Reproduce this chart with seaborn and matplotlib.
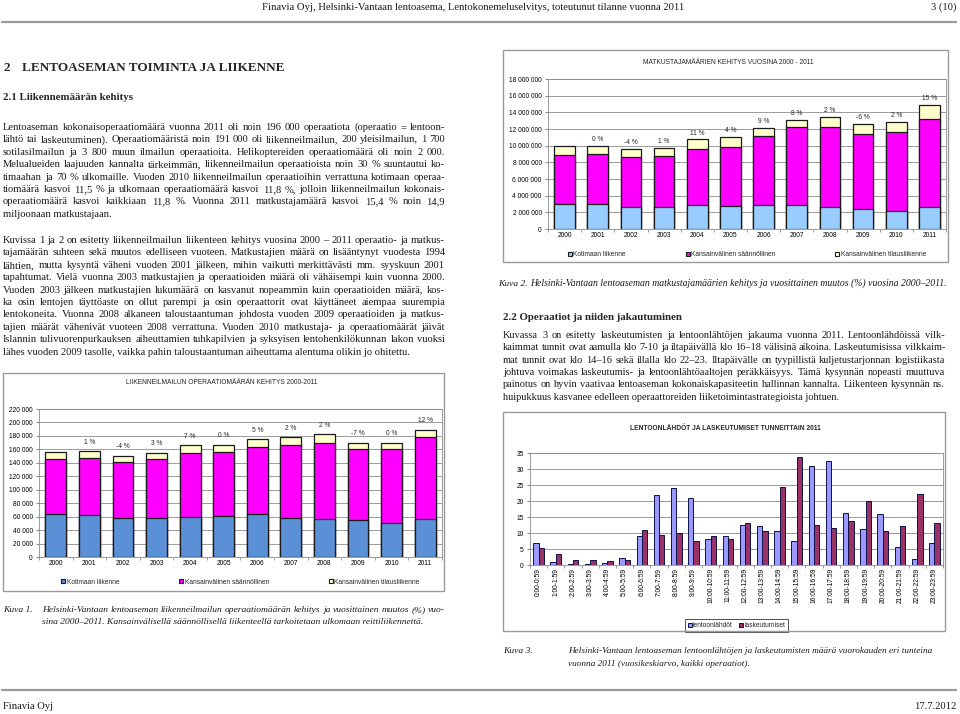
import numpy as np
import pandas as pd
import seaborn as sns
import matplotlib
import matplotlib.pyplot as plt
from matplotlib.patches import Patch, Rectangle
from matplotlib.ticker import FuncFormatter
plt.switch_backend('agg')

vuodet = ['2000', '2001', '2002', '2003', '2004', '2005', '2006', '2007', '2008', '2009', '2010', '2011']

# Kuva 1: liikenneilmailun operaatiot
op_kotimaa = [63500, 63000, 58500, 58500, 59500, 61500, 64000, 58500, 57000, 55000, 51000, 57000]
op_saannollinen = [82000, 84000, 82500, 87000, 95000, 94000, 100000, 108000, 112000, 105000, 109000, 121000]
op_tilaus = [10500, 10000, 9500, 9500, 11500, 11000, 11000, 11500, 13500, 10000, 10000, 11500]
op_muutos = ['', '1 %', '-4 %', '3 %', '7 %', '0 %', '5 %', '2 %', '2 %', '-7 %', '0 %', '12 %']

# Kuva 2: matkustajat
mk_kotimaa = [3.0e6, 3.0e6, 2.7e6, 2.65e6, 2.85e6, 2.8e6, 2.9e6, 2.9e6, 2.7e6, 2.4e6, 2.15e6, 2.7e6]
mk_saannollinen = [5.9e6, 6.0e6, 6.0e6, 6.1e6, 6.8e6, 7.1e6, 8.3e6, 9.3e6, 9.55e6, 9.0e6, 9.5e6, 10.55e6]
mk_tilaus = [1.1e6, 1.0e6, 0.9e6, 1.0e6, 1.1e6, 1.2e6, 0.9e6, 0.9e6, 1.2e6, 1.2e6, 1.25e6, 1.6e6]
mk_muutos = ['', '0 %', '-4 %', '1 %', '11 %', '4 %', '9 %', '8 %', '2 %', '-6 %', '2 %', '15 %']

# Kuva 3: lähdöt ja laskeutumiset tunneittain
tunnit = ['0:00-0:59', '1:00-1:59', '2:00-2:59', '3:00-3:59', '4:00-4:59', '5:00-5:59',
          '6:00-6:59', '7:00-7:59', '8:00-8:59', '9:00-9:59', '10:00-10:59', '11:00-11:59',
          '12:00-12:59', '13:00-13:59', '14:00-14:59', '15:00-15:59', '16:00-16:59', '17:00-17:59',
          '18:00-18:59', '19:00-19:59', '20:00-20:59', '21:00-21:59', '22:00-22:59', '23:00-23:59']
lahdot = [6.9, 0.8, 0.4, 0.3, 0.6, 2.3, 9.0, 21.8, 24.0, 20.8, 8.2, 9.0,
          12.4, 12.2, 10.7, 7.6, 30.8, 32.4, 16.2, 11.3, 16.0, 5.6, 1.8, 6.9]
laskeutumiset = [5.4, 3.3, 1.6, 1.7, 1.4, 1.7, 10.8, 9.3, 10.1, 7.6, 9.0, 8.1,
                 13.2, 10.7, 24.4, 33.6, 12.6, 11.7, 13.9, 19.9, 10.6, 12.2, 22.3, 13.2]

sarjat = ['Kotimaan liikenne', 'Kansainvälinen säännöllinen', 'Kansainvälinen tilausliikenne']

sns.set_style('white')
plt.rcParams['font.family'] = ['Liberation Sans', 'DejaVu Sans']

W, H = 960, 714
fig = plt.figure(figsize=(9.6, 7.14), dpi=100)
renderer = fig.canvas.get_renderer()


def fx(x):
    return x / W


def fy(y):
    return 1 - y / H


def box(x0, y0, x1, y1):
    fig.add_artist(Rectangle((fx(x0), fy(y1)), (x1 - x0) / W, (y1 - y0) / H,
                             transform=fig.transFigure, fill=False, ec='#9a9a9a', lw=1))


def axes_px(x0, y0, x1, y1):
    return fig.add_axes([fx(x0), fy(y1), (x1 - x0) / W, (y1 - y0) / H])


def excel_axes(ax, ymax, step):
    ax.set_ylim(0, ymax)
    ax.set_yticks(np.arange(0, ymax + 1, step))
    ax.yaxis.set_major_formatter(FuncFormatter(lambda v, _: f'{int(v):,}'.replace(',', ' ')))
    ax.set_xlabel('')
    ax.set_ylabel('')
    ax.grid(axis='y', color='#8c8c8c', lw=0.6)
    ax.set_axisbelow(True)
    for s in ax.spines.values():
        s.set_color('#8c8c8c')
        s.set_linewidth(0.6)
    n = len(ax.get_xticks())
    ax.set_xticks(np.arange(-0.5, n, 1), minor=True)
    ax.tick_params(axis='both', which='major', labelsize=4.8, colors='black', pad=2)
    ax.tick_params(axis='x', which='major', length=0)
    ax.tick_params(axis='x', which='minor', length=2.5, color='#8c8c8c', bottom=True)
    ax.tick_params(axis='y', length=2.5, color='#8c8c8c', left=True)


def stacked(ax, kot, saa, til, muutos, colors, ymax, step, nosto, title, title_y):
    df = pd.DataFrame({'vuosi': vuodet, 'kot': kot, 'saa': saa, 'til': til})
    df['ks'] = df['kot'] + df['saa']
    df['total'] = df['ks'] + df['til']
    for col, c in zip(['total', 'ks', 'kot'], colors[::-1]):
        sns.barplot(data=df, x='vuosi', y=col, color=c, saturation=1, width=0.62,
                    edgecolor='#1a1a1a', linewidth=0.9, ax=ax)
    for i, (t, lab) in enumerate(zip(df['total'], muutos)):
        if lab:
            ax.annotate(lab, (i, t), xytext=(0, nosto), textcoords='offset points',
                        ha='center', va='bottom', fontsize=4.8)
    excel_axes(ax, ymax, step)
    handles = [Patch(fc=c, ec='#1a1a1a', lw=0.8) for c in colors]
    ax.legend(handles, sarjat, ncol=3, loc='center', bbox_to_anchor=(0.5, -0.17),
              frameon=False, fontsize=4.8, handlelength=0.6, handleheight=0.6,
              handletextpad=0.2, columnspacing=9)
    fig.text(ax.get_position().x0 + ax.get_position().width / 2 - 0.02, fy(title_y), title,
             ha='center', va='center', fontsize=4.8)


# Kuva 2
box(503, 50, 948, 262)
ax2 = axes_px(548, 79, 946, 229)
stacked(ax2, mk_kotimaa, mk_saannollinen, mk_tilaus, mk_muutos,
        ['#99CCFF', '#FF00FF', '#FFFFCC'], 18_000_000, 2_000_000, 2,
        'MATKUSTAJAMÄÄRIEN KEHITYS VUOSINA 2000 - 2011', 63)

# Kuva 1
box(3, 373, 444, 591)
ax1 = axes_px(39, 409, 442, 557)
stacked(ax1, op_kotimaa, op_saannollinen, op_tilaus, op_muutos,
        ['#5B8FD6', '#FF00FF', '#FFFFCC'], 220_000, 20_000, 4,
        'LIIKENNEILMAILUN OPERAATIOMÄÄRÄN KEHITYS 2000-2011', 382)

# Kuva 3
box(503, 412, 945, 631)
ax3 = axes_px(530, 453, 943, 565)
df3 = pd.DataFrame({'tunti': tunnit * 2,
                    'arvo': lahdot + laskeutumiset,
                    'sarja': ['lentoonlähdöt'] * 24 + ['laskeutumiset'] * 24})
sns.barplot(data=df3, x='tunti', y='arvo', hue='sarja', palette=['#9999FF', '#993366'],
            saturation=1, width=0.62, edgecolor='#10104a', linewidth=0.7, ax=ax3)
excel_axes(ax3, 35, 5)
ax3.tick_params(axis='x', which='major', labelrotation=90)
ax3.legend(loc='center', bbox_to_anchor=(0.5, -0.54), ncol=2, frameon=True, fancybox=False,
           edgecolor='black', fontsize=4.8, handlelength=0.6, handleheight=0.6,
           handletextpad=0.2, columnspacing=1.0, borderpad=0.4).get_frame().set_linewidth(0.6)
fig.text(fx(725), fy(429), 'LENTOONLÄHDÖT JA LASKEUTUMISET TUNNEITTAIN 2011',
         ha='center', va='center', fontsize=4.8, fontweight='bold')

# document text (y = rivin keskikohta pikseleinä, piirretään peruslinjalle)
serif = 'Liberation Serif'
body = dict(family=serif, size=7.6, color='#1a1a1a', va='baseline')
cap = dict(family=serif, size=6.8, style='italic', color='#1a1a1a', va='baseline')
PERUS = 3


def teksti(x, y, s, **kw):
    fig.text(fx(x), fy(y + PERUS), s, **kw)


def leveys(s, **kw):
    t = fig.text(0, 0, s, **kw)
    w = t.get_window_extent(renderer).width
    t.remove()
    return w


def rivit(x0, x1, y0, dy, rows, **kw):
    # tasattu kappale: sanat levitetään riville, viimeinen rivi vasemmalle
    for i, r in enumerate(rows):
        y = y0 + i * dy
        sanat = r.split(' ')
        if i == len(rows) - 1 or len(sanat) == 1:
            teksti(x0, y, r, **kw)
            continue
        lev = [leveys(s, **kw) for s in sanat]
        vali = (x1 - x0 - sum(lev)) / (len(sanat) - 1)
        x = x0
        for s, w in zip(sanat, lev):
            teksti(x, y, s, **kw)
            x += w + vali


teksti(684, 7, 'Finavia Oyj, Helsinki-Vantaan lentoasema, Lentokonemeluselvitys, '
       'toteutunut tilanne vuonna 2011', ha='right', **{**body, 'size': 7.7})
teksti(956, 7, '3 (10)', ha='right', **body)
fig.add_artist(plt.Line2D([fx(2), fx(956)], [fy(22), fy(22)], color='#9a9a9a', lw=1.6))
fig.add_artist(plt.Line2D([fx(2), fx(956)], [fy(690), fy(690)], color='#9a9a9a', lw=1.6))
teksti(3, 706, 'Finavia Oyj', ha='left', **body)
teksti(956, 706, '17.7.2012', ha='right', **body)

fig.text(fx(3), fy(68), '2', family=serif, size=9.5, weight='bold', va='center')
fig.text(fx(22), fy(68), 'LENTOASEMAN TOIMINTA JA LIIKENNE', family=serif, size=9.5,
         weight='bold', va='center')
fig.text(fx(3), fy(98), '2.1 Liikennemäärän kehitys', family=serif, size=7.8,
         weight='bold', va='center')
fig.text(fx(503), fy(318), '2.2 Operaatiot ja niiden jakautuminen', family=serif, size=7.8,
         weight='bold', va='center')

rivit(3, 445, 127, 12.4, [
    'Lentoaseman kokonaisoperaatiomäärä vuonna 2011 oli noin 196 000 operaatiota (operaatio = lentoon-',
    'lähtö tai laskeutuminen). Operaatiomääristä noin 191 000 oli liikenneilmailun, 200 yleisilmailun, 1 700',
    'sotilasilmailun ja 3 800 muun ilmailun operaatioita. Helikoptereiden operaatiomäärä oli noin 2 000.',
    'Melualueiden laajuuden kannalta tärkeimmän, liikenneilmailun operaatioista noin 30 % suuntautui ko-',
    'timaahan ja 70 % ulkomaille. Vuoden 2010 liikenneilmailun operaatioihin verrattuna kotimaan operaa-',
    'tiomäärä kasvoi 11,5 % ja ulkomaan operaatiomäärä kasvoi 11,8 %, jolloin liikenneilmailun kokonais-',
    'operaatiomäärä kasvoi kaikkiaan 11,8 %. Vuonna 2011 matkustajamäärä kasvoi 15,4 % noin 14,9',
    'miljoonaan matkustajaan.',
], **body)

rivit(3, 445, 240, 12.4, [
    'Kuvissa 1 ja 2 on esitetty liikenneilmailun liikenteen kehitys vuosina 2000 – 2011 operaatio- ja matkus-',
    'tajamäärän suhteen sekä muutos edelliseen vuoteen. Matkustajien määrä on lisääntynyt vuodesta 1994',
    'lähtien, mutta kysyntä väheni vuoden 2001 jälkeen, mihin vaikutti merkittävästi mm. syyskuun 2001',
    'tapahtumat. Vielä vuonna 2003 matkustajien ja operaatioiden määrä oli vähäisempi kuin vuonna 2000.',
    'Vuoden 2003 jälkeen matkustajien lukumäärä on kasvanut nopeammin kuin operaatioiden määrä, kos-',
    'ka osin lentojen täyttöaste on ollut parempi ja osin operaattorit ovat käyttäneet aiempaa suurempia',
    'lentokoneita. Vuonna 2008 alkaneen taloustaantuman johdosta vuoden 2009 operaatioiden ja matkus-',
    'tajien määrät vähenivät vuoteen 2008 verrattuna. Vuoden 2010 matkustaja- ja operaatiomäärät jäivät',
    'Islannin tulivuorenpurkauksen aiheuttamien tuhkapilvien ja syksyisen lentohenkilökunnan lakon vuoksi',
    'lähes vuoden 2009 tasolle, vaikka pahin taloustaantuman aiheuttama alentuma olikin jo ohitettu.',
], **body)

rivit(503, 945, 335, 12.3, [
    'Kuvassa 3 on esitetty laskeutumisten ja lentoonlähtöjen jakauma vuonna 2011. Lentoonlähdöissä vilk-',
    'kaimmat tunnit ovat aamulla klo 7-10 ja iltapäivällä klo 16–18 välisinä aikoina. Laskeutumisissa vilkkaim-',
    'mat tunnit ovat klo 14–16 sekä illalla klo 22–23. Iltapäivälle on tyypillistä kuljetustarjonnan logistiikasta',
    'johtuva voimakas laskeutumis- ja lentoonlähtöaaltojen peräkkäisyys. Tämä kysynnän nopeasti muuttuva',
    'painotus on hyvin vaativaa lentoaseman kokonaiskapasiteetin hallinnan kannalta. Liikenteen kysynnän ns.',
    'huipukkuus kasvanee edelleen operaattoreiden liiketoimintastrategioista johtuen.',
], **{**body, 'size': 7.5})

teksti(498, 283, 'Kuva 2.', **cap)
teksti(530, 283, 'Helsinki-Vantaan lentoaseman matkustajamäärien kehitys ja vuosittainen '
       'muutos (%) vuosina 2000–2011.', **{**cap, 'size': 7.0})
teksti(3, 609, 'Kuva 1.', **cap)
rivit(42, 445, 609, 12.5, [
    'Helsinki-Vantaan lentoaseman liikenneilmailun operaatiomäärän kehitys ja vuosittainen muutos (%) vuo-',
    'sina 2000–2011. Kansainvälisellä säännöllisellä liikenteellä tarkoitetaan ulkomaan reittiliikennettä.',
], **cap)
teksti(503, 650, 'Kuva 3.', **cap)
for i, r in enumerate(['Helsinki-Vantaan lentoaseman lentoonlähtöjen ja laskeutumisten määrä '
                       'vuorokauden eri tunteina',
                       'vuonna 2011 (vuosikeskiarvo, kaikki operaatiot).']):
    teksti(568, 650 + i * 12.5, r, **{**cap, 'size': 6.7})

fig.savefig('out.png', dpi=100)
